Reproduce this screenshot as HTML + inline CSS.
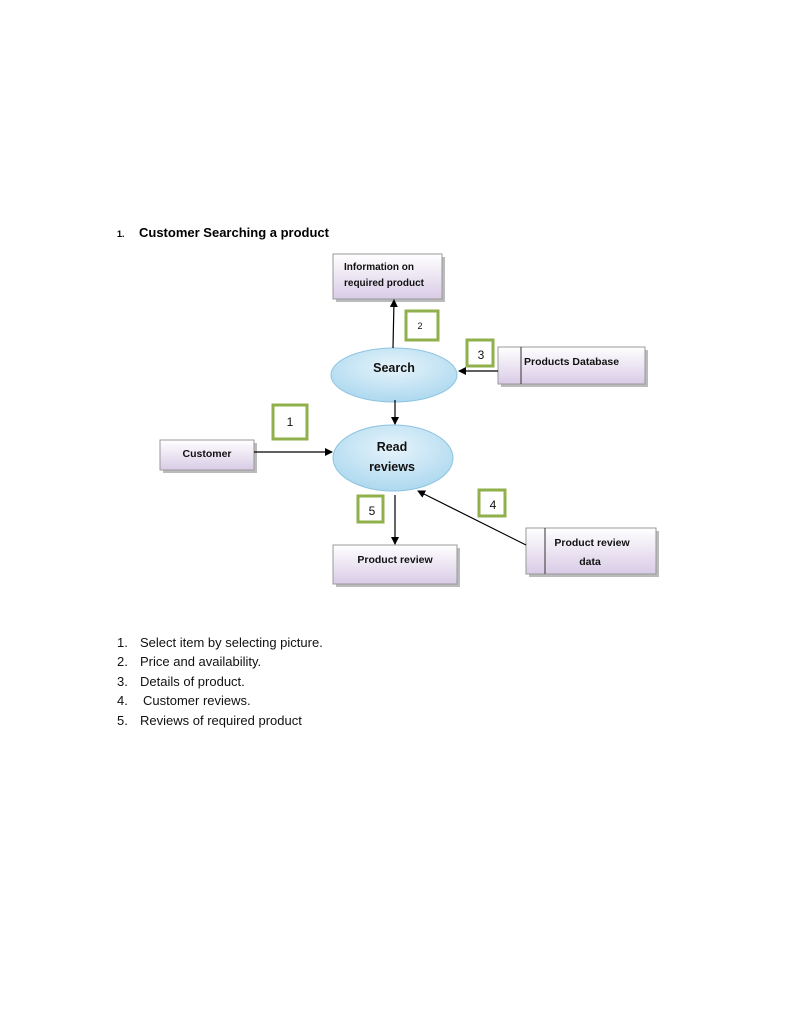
<!DOCTYPE html>
<html><head><meta charset="utf-8"><style>
html,body{margin:0;padding:0;background:#fff;width:791px;height:1023px;overflow:hidden}
svg{display:block}
text{font-family:"Liberation Sans",sans-serif}
</style></head><body>
<svg width="791" height="1023" viewBox="0 0 791 1023" xmlns="http://www.w3.org/2000/svg">
<defs>
<linearGradient id="pg" x1="0" y1="0" x2="0" y2="1"><stop offset="0" stop-color="#ffffff"/><stop offset="1" stop-color="#d9cbe6"/></linearGradient>
<radialGradient id="bg" cx="0.5" cy="0.35" r="0.7"><stop offset="0" stop-color="#e6f4fb"/><stop offset="1" stop-color="#a9d6ee"/></radialGradient>
<marker id="ar" markerWidth="8" markerHeight="8" refX="7" refY="4" orient="auto" markerUnits="userSpaceOnUse"><path d="M0,0 L8,4 L0,8 z" fill="#000"/></marker>
</defs>
<text x="117" y="237" font-size="9" font-weight="bold">1.</text>
<text x="139" y="237" font-size="13" font-weight="bold">Customer Searching a product</text>

<g stroke="#999" stroke-width="1">
<rect x="336" y="257" width="109" height="45" fill="#bbb" stroke="none"/>
<rect x="333" y="254" width="109" height="45" fill="url(#pg)"/>
<rect x="501" y="350" width="147" height="37" fill="#bbb" stroke="none"/>
<rect x="498" y="347" width="147" height="37" fill="url(#pg)"/>
<line x1="521" y1="347" x2="521" y2="384" stroke="#333"/>
<rect x="163" y="443" width="94" height="30" fill="#bbb" stroke="none"/>
<rect x="160" y="440" width="94" height="30" fill="url(#pg)"/>
<rect x="336" y="548" width="124" height="39" fill="#bbb" stroke="none"/>
<rect x="333" y="545" width="124" height="39" fill="url(#pg)"/>
<rect x="529" y="531" width="130" height="46" fill="#bbb" stroke="none"/>
<rect x="526" y="528" width="130" height="46" fill="url(#pg)"/>
<line x1="545" y1="528" x2="545" y2="574" stroke="#333"/>
</g>
<ellipse cx="394" cy="375" rx="63" ry="27" fill="url(#bg)" stroke="#8cc4e0"/>
<ellipse cx="393" cy="458" rx="60" ry="33" fill="url(#bg)" stroke="#8cc4e0"/>

<g fill="none" stroke="#8fb04a" stroke-width="3">
<rect x="406" y="311" width="32" height="29"/>
<rect x="467" y="340" width="26" height="26"/>
<rect x="273" y="405" width="34" height="34"/>
<rect x="358" y="496" width="25" height="26"/>
<rect x="479" y="490" width="26" height="26"/>
</g>

<g stroke="#000" stroke-width="1.2" marker-end="url(#ar)">
<line x1="393" y1="348" x2="394" y2="300"/>
<line x1="395" y1="400" x2="395" y2="424"/>
<line x1="254" y1="452" x2="332" y2="452"/>
<line x1="498" y1="371" x2="459" y2="371"/>
<line x1="526" y1="545" x2="418" y2="491"/>
<line x1="395" y1="495" x2="395" y2="544"/>
</g>

<g font-weight="bold" fill="#111">
<text x="344" y="270" font-size="10">Information on</text>
<text x="344" y="286" font-size="10">required product</text>
<text x="524" y="365" font-size="10.5">Products Database</text>
<text x="207" y="457" font-size="10.5" text-anchor="middle">Customer</text>
<text x="395" y="563" font-size="10.5" text-anchor="middle">Product review</text>
<text x="592" y="546" font-size="10.5" text-anchor="middle">Product review</text>
<text x="590" y="565" font-size="10.5" text-anchor="middle">data</text>
<text x="394" y="372" font-size="12.5" text-anchor="middle">Search</text>
<text x="392" y="451" font-size="12.5" text-anchor="middle">Read</text>
<text x="392" y="471" font-size="12.5" text-anchor="middle">reviews</text>
</g>
<g fill="#111" text-anchor="middle">
<text x="420" y="329" font-size="9">2</text>
<text x="481" y="359" font-size="12">3</text>
<text x="290" y="426" font-size="12">1</text>
<text x="372" y="515" font-size="12">5</text>
<text x="493" y="509" font-size="12">4</text>
</g>

<g font-size="13" fill="#111">
<text x="117" y="647">1.</text><text x="140" y="647">Select item by selecting picture.</text>
<text x="117" y="666">2.</text><text x="140" y="666">Price and availability.</text>
<text x="117" y="686">3.</text><text x="140" y="686">Details of product.</text>
<text x="117" y="705">4.</text><text x="143" y="705">Customer reviews.</text>
<text x="117" y="725">5.</text><text x="140" y="725">Reviews of required product</text>
</g>
</svg>
</body></html>
